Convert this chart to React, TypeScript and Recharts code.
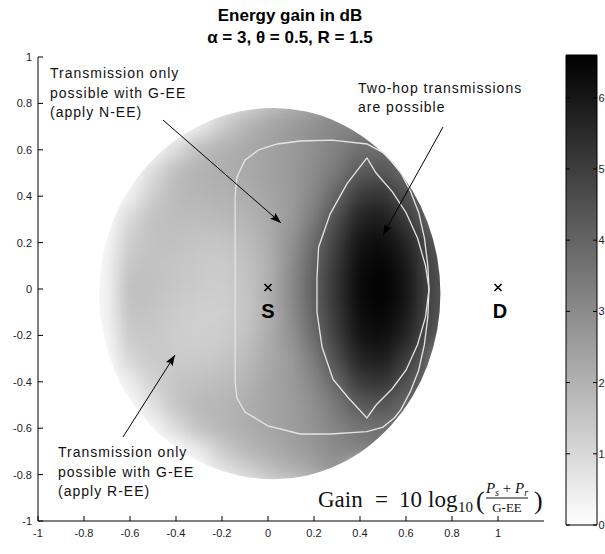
import React from "react";
import { ScatterChart, Scatter, XAxis, YAxis, BarChart, Bar } from "recharts";

const W = 605;
const H = 554;

// axes
const X_DOMAIN = [-1, 1.2];
const Y_DOMAIN = [-1, 1];
const X_TICKS = [-1, -0.8, -0.6, -0.4, -0.2, 0, 0.2, 0.4, 0.6, 0.8, 1];
const Y_TICKS = [-1, -0.8, -0.6, -0.4, -0.2, 0, 0.2, 0.4, 0.6, 0.8, 1];
const CBAR_TICKS = [0, 1, 2, 3, 4, 5, 6];
const CBAR_MAX = 6.6;

// gain in dB, read on a 0.1 grid (null = outside the region)
const GRID_X = [-0.7, -0.6, -0.5, -0.4, -0.3, -0.2, -0.1, 0, 0.1, 0.2, 0.3, 0.4, 0.5, 0.6, 0.7, 0.8];
const GRID_Y = [0.8, 0.7, 0.6, 0.5, 0.4, 0.3, 0.2, 0.1, 0, -0.1, -0.2, -0.3, -0.4, -0.5, -0.6, -0.7, -0.8];
const n = null;
const GAIN_DB: (number | null)[][] = [
  [n, n, n, n, n, 0.6, 1.0, 1.5, 2.0, 2.2, 2.9, n, n, n, n, n],
  [n, n, n, n, 0.5, 1.3, 1.9, 2.3, 2.6, 2.9, 3.1, 3.3, 3.5, n, n, n],
  [n, n, 0.2, 0.9, 1.7, 2.0, 2.2, 2.4, 2.6, 2.9, 3.3, 3.7, 3.8, 3.6, n, n],
  [0.0, 0.1, 0.9, 1.7, 2.0, 2.1, 2.2, 2.4, 2.6, 3.0, 3.5, 4.3, 4.4, 3.9, 3.8, n],
  [0.0, 0.4, 1.3, 1.8, 1.9, 2.0, 2.1, 2.3, 2.6, 3.1, 4.0, 5.1, 5.3, 4.5, 3.9, n],
  [0.1, 1.0, 1.6, 1.7, 1.7, 1.8, 1.9, 2.2, 2.6, 3.4, 4.6, 5.7, 5.9, 5.1, 4.1, n],
  [0.2, 1.3, 1.6, 1.6, 1.5, 1.5, 1.7, 2.1, 2.8, 3.8, 5.0, 6.1, 6.3, 5.7, 4.6, 4.1],
  [0.3, 1.5, 1.6, 1.5, 1.4, 1.35, 1.55, 2.0, 2.9, 4.0, 5.2, 6.3, 6.5, 6.0, 4.8, 4.2],
  [0.3, 1.7, 1.6, 1.45, 1.35, 1.3, 1.5, 2.0, 3.0, 4.1, 5.3, 6.4, 6.6, 6.1, 4.9, 4.2],
  [0.3, 1.6, 1.5, 1.35, 1.25, 1.25, 1.45, 2.0, 2.9, 4.0, 5.2, 6.3, 6.5, 6.0, 4.8, 4.2],
  [0.2, 1.4, 1.45, 1.3, 1.25, 1.3, 1.55, 2.1, 2.8, 3.8, 5.0, 6.1, 6.3, 5.7, 4.6, 4.1],
  [0.1, 1.1, 1.4, 1.35, 1.35, 1.45, 1.7, 2.2, 2.6, 3.4, 4.6, 5.7, 5.9, 5.1, 4.1, n],
  [0.0, 0.5, 1.2, 1.5, 1.6, 1.7, 1.9, 2.3, 2.6, 3.1, 4.0, 5.1, 5.3, 4.5, 3.9, n],
  [0.0, 0.1, 0.8, 1.5, 1.8, 1.9, 2.1, 2.3, 2.5, 2.9, 3.5, 4.3, 4.4, 3.9, 3.8, n],
  [n, n, 0.2, 0.9, 1.6, 1.9, 2.1, 2.3, 2.5, 2.8, 3.2, 3.6, 3.7, 3.6, n, n],
  [n, n, n, n, 0.5, 1.3, 1.8, 2.1, 2.4, 2.7, 3.0, 3.2, 3.4, n, n, n],
  [n, n, n, n, n, 0.6, 1.0, 1.5, 1.9, 2.2, 2.8, n, n, n, n, n],
];
const GRID_STEP = 0.1;

// feasible region: centre, right and left half-widths, half-height (data units)
const REGION_CENTER = { x: 0.025, y: -0.02 };
const REGION_RX_RIGHT = 0.725;
const REGION_RX_LEFT = 0.76;
const REGION_RY = 0.8;

// white contours
const NEE_CONTOUR = [
  [-0.143, 0.4], [-0.135, 0.483], [-0.1, 0.555], [-0.04, 0.6], [0.04, 0.625], [0.14, 0.638],
  [0.28, 0.642], [0.43, 0.625], [0.5, 0.588], [0.55, 0.538], [0.578, 0.5], [0.62, 0.42],
  [0.655, 0.33], [0.68, 0.22], [0.695, 0.1], [0.7, 0], [0.695, -0.12], [0.68, -0.24],
  [0.655, -0.35], [0.62, -0.44], [0.578, -0.52], [0.55, -0.555], [0.5, -0.595], [0.43, -0.615],
  [0.27, -0.625], [0.14, -0.625], [0.0, -0.59], [-0.1, -0.53], [-0.135, -0.47], [-0.143, -0.4],
  [-0.143, 0.4],
];
const TWO_HOP_CONTOUR = [
  [0.43, 0.565], [0.47, 0.5], [0.54, 0.42], [0.6, 0.33], [0.65, 0.22], [0.685, 0.1],
  [0.7, 0], [0.685, -0.12], [0.65, -0.24], [0.6, -0.35], [0.54, -0.43], [0.47, -0.5],
  [0.43, -0.556], [0.35, -0.47], [0.283, -0.39], [0.235, -0.25], [0.213, -0.1], [0.213, 0.05],
  [0.22, 0.18], [0.27, 0.323], [0.343, 0.453], [0.43, 0.565],
];

const NODES = [
  { x: 0, y: 0, label: "S" },
  { x: 1, y: 0, label: "D" },
];

// layout
const PLOT_LEFT = 38;
const PLOT_RIGHT = 544;
const PLOT_TOP = 57;
const PLOT_BOTTOM = 521;
const PX_X = (PLOT_RIGHT - PLOT_LEFT) / (X_DOMAIN[1] - X_DOMAIN[0]);
const PX_Y = (PLOT_BOTTOM - PLOT_TOP) / (Y_DOMAIN[1] - Y_DOMAIN[0]);
const CELL_W = GRID_STEP * PX_X + 1;
const CELL_H = GRID_STEP * PX_Y + 1;
const CBAR_W = 31;

const rcx = PLOT_LEFT + (REGION_CENTER.x - X_DOMAIN[0]) * PX_X;
const rcy = PLOT_TOP + (Y_DOMAIN[1] - REGION_CENTER.y) * PX_Y;
const rry = REGION_RY * PX_Y;
const REGION_CLIP = `path('M ${rcx} ${rcy - rry} A ${REGION_RX_RIGHT * PX_X} ${rry} 0 0 1 ${rcx} ${rcy + rry} A ${REGION_RX_LEFT * PX_X} ${rry} 0 0 1 ${rcx} ${rcy - rry} Z')`;

const cells = GRID_Y.flatMap((y, r) =>
  GRID_X.map((x, c) => ({ x, y, v: GAIN_DB[r][c] }))
).filter((d) => d.v != null);

const toPts = (arr: number[][]) => arr.map(([x, y]) => ({ x, y }));

const gray = (v: number) => {
  const g = Math.round(255 * (1 - Math.min(v, CBAR_MAX) / CBAR_MAX));
  return `rgb(${g},${g},${g})`;
};

function HeatCell(props: any) {
  const { cx, cy, payload } = props;
  return (
    <rect x={cx - CELL_W / 2} y={cy - CELL_H / 2} width={CELL_W} height={CELL_H} fill={gray(payload.v)} />
  );
}

function NodeMark(props: any) {
  const { cx, cy, payload } = props;
  return (
    <g>
      <line x1={cx - 3.5} x2={cx + 3.5} y1={cy - 5} y2={cy + 2} stroke="#000" strokeWidth={1.6} />
      <line x1={cx - 3.5} x2={cx + 3.5} y1={cy + 2} y2={cy - 5} stroke="#000" strokeWidth={1.6} />
      <text x={cx + (payload.label === "D" ? 2 : 0)} y={cy + 29} textAnchor="middle" fontSize={20} fontWeight="bold" fill="#000">
        {payload.label}
      </text>
    </g>
  );
}

function XTick(props: any) {
  const { x, y, payload } = props;
  return (
    <g>
      <line x1={x} x2={x} y1={y} y2={y - 5} stroke="#000" />
      <text x={x} y={y + 16} textAnchor="middle" fontSize={11} fill="#222">{payload.value}</text>
    </g>
  );
}

function YTick(props: any) {
  const { x, y, payload } = props;
  return (
    <g>
      <line x1={x} x2={x + 5} y1={y} y2={y} stroke="#000" />
      <text x={x - 6} y={y + 4} textAnchor="end" fontSize={11} fill="#222">{payload.value}</text>
    </g>
  );
}

function CbarTick(props: any) {
  const { x, y, payload } = props;
  return (
    <g>
      <line x1={x - CBAR_W} x2={x - CBAR_W + 4} y1={y} y2={y} stroke="#000" />
      <line x1={x - 4} x2={x} y1={y} y2={y} stroke="#000" />
      <text x={x + 1.5} y={y + 4} fontSize={11} fill="#222">{payload.value}</text>
    </g>
  );
}

const noShape = () => <g />;
const chartMargin = { top: PLOT_TOP, right: W - PLOT_RIGHT, bottom: 0, left: 0 };

export default function App() {
  return (
    <div style={{ position: "absolute", left: 0, top: 0, width: W, height: H, background: "#fff", fontFamily: "'Liberation Sans', Arial, sans-serif" }}>
      {/* heat map layer: blurred, then clipped to the feasible region */}
      <div style={{ position: "absolute", left: 0, top: 0, width: W, height: H, filter: "blur(9px)", clipPath: REGION_CLIP }}>
        <ScatterChart width={W} height={H} margin={chartMargin}>
          <XAxis type="number" dataKey="x" domain={X_DOMAIN} allowDataOverflow height={H - PLOT_BOTTOM} tick={false} axisLine={false} tickLine={false} />
          <YAxis type="number" dataKey="y" domain={Y_DOMAIN} allowDataOverflow width={PLOT_LEFT} tick={false} axisLine={false} tickLine={false} />
          <Scatter data={cells} shape={HeatCell} isAnimationActive={false} />
        </ScatterChart>
      </div>
      <div style={{ position: "absolute", left: 0, top: 0 }}>
        <ScatterChart width={W} height={H} margin={chartMargin}>
          <XAxis
            type="number"
            dataKey="x"
            domain={X_DOMAIN}
            ticks={X_TICKS}
            interval={0}
            allowDataOverflow
            height={H - PLOT_BOTTOM}
            tickSize={0}
            tickMargin={0}
            tickLine={false}
            tick={<XTick />}
            axisLine={{ stroke: "#000" }}
          />
          <YAxis
            type="number"
            dataKey="y"
            domain={Y_DOMAIN}
            ticks={Y_TICKS}
            interval={0}
            allowDataOverflow
            width={PLOT_LEFT}
            tickSize={0}
            tickMargin={0}
            tickLine={false}
            tick={<YTick />}
            axisLine={{ stroke: "#000" }}
          />
          <Scatter data={toPts(NEE_CONTOUR)} line={{ stroke: "#e4e4e4", strokeWidth: 1.3 }} lineType="joint" shape={noShape} isAnimationActive={false} />
          <Scatter data={toPts(TWO_HOP_CONTOUR)} line={{ stroke: "#e4e4e4", strokeWidth: 1.3 }} lineType="joint" shape={noShape} isAnimationActive={false} />
          <Scatter data={NODES} shape={NodeMark} isAnimationActive={false} />
        </ScatterChart>
      </div>
      <div style={{ position: "absolute", left: 560, top: 0 }}>
        <BarChart width={45} height={H} data={[{ name: "gain", v: CBAR_MAX }]} margin={{ top: 55, right: 0, bottom: 29, left: 6 }} barCategoryGap={0} barGap={0}>
          <XAxis dataKey="name" hide />
          <YAxis
            orientation="right"
            type="number"
            domain={[0, CBAR_MAX]}
            ticks={CBAR_TICKS}
            interval={0}
            width={8}
            tickSize={0}
            tickMargin={0}
            tickLine={false}
            axisLine={false}
            tick={<CbarTick />}
          />
          <Bar dataKey="v" fill="url(#cbarGrad)" stroke="#000" strokeWidth={1} isAnimationActive={false} />
        </BarChart>
      </div>
      <svg width={W} height={H} style={{ position: "absolute", left: 0, top: 0, pointerEvents: "none" }}>
        <defs>
          <linearGradient id="cbarGrad" x1="0" y1="1" x2="0" y2="0">
            <stop offset="0" stopColor="#fff" />
            <stop offset="1" stopColor="#000" />
          </linearGradient>
          <marker id="arrowHead" markerWidth="11" markerHeight="8" refX="11" refY="4" orient="auto" markerUnits="userSpaceOnUse">
            <path d="M0,0 L11,4 L0,8 L2,4 z" fill="#000" />
          </marker>
        </defs>
        <text x={290} y={21} textAnchor="middle" fontSize={17} fontWeight="bold">Energy gain in dB</text>
        <text x={290} y={43} textAnchor="middle" fontSize={17} fontWeight="bold">α = 3, θ = 0.5, R = 1.5</text>
        <g fontSize={14} letterSpacing={1} fill="#111">
          <text x={50} y={78}>Transmission only</text>
          <text x={50} y={98}>possible with G-EE</text>
          <text x={50} y={117}>(apply N-EE)</text>
          <text x={358} y={93}>Two-hop transmissions</text>
          <text x={358} y={112}>are possible</text>
          <text x={58} y={457}>Transmission only</text>
          <text x={58} y={477}>possible with G-EE</text>
          <text x={58} y={496}>(apply R-EE)</text>
        </g>
        <g stroke="#000" strokeWidth={1}>
          <line x1={163} y1={120} x2={281} y2={223} markerEnd="url(#arrowHead)" />
          <line x1={443} y1={127} x2={383} y2={235} markerEnd="url(#arrowHead)" />
          <line x1={123} y1={437} x2={175} y2={355} markerEnd="url(#arrowHead)" />
        </g>
        <g fontFamily="'Liberation Serif', 'Times New Roman', serif" fill="#111">
          <text x={318} y={507} fontSize={23}>Gain</text>
          <text x={375} y={507} fontSize={23}>=</text>
          <text x={399} y={507} fontSize={23}>10</text>
          <text x={428} y={507} fontSize={23}>log</text>
          <text x={458} y={512} fontSize={15}>10</text>
          <text x={476} y={509} fontSize={26}>(</text>
          <text x={507} y={493} fontSize={15} textAnchor="middle" fontStyle="italic">P<tspan fontSize={10} dy={3}>s</tspan><tspan dy={-3} fontStyle="normal"> + </tspan>P<tspan fontSize={10} dy={3}>r</tspan></text>
          <line x1={486} x2={528} y1={498} y2={498} stroke="#111" strokeWidth={1} />
          <text x={507} y={512} fontSize={13} textAnchor="middle">G-EE</text>
          <text x={534} y={509} fontSize={26}>)</text>
        </g>
      </svg>
    </div>
  );
}
